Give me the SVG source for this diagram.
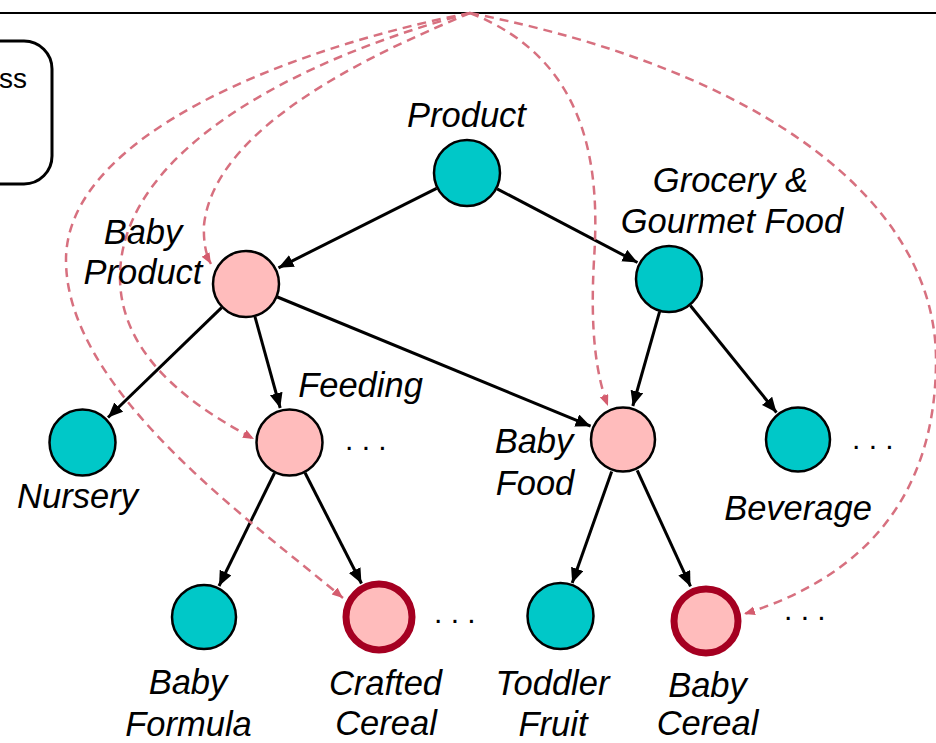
<svg xmlns="http://www.w3.org/2000/svg" width="936" height="743" viewBox="0 0 936 743">
<style>
.lbl{font-family:"Liberation Sans",Arial,sans-serif;font-style:italic;font-size:34.5px;fill:#000;text-anchor:middle}
.dots{font-family:"Liberation Sans",Arial,sans-serif;font-size:30px;fill:#000}
.teal{fill:#00C8C8;stroke:#000;stroke-width:2.5}
.pink{fill:#FFBCBC;stroke:#000;stroke-width:2.5}
.target{fill:#FFBCBC;stroke:#A50021;stroke-width:7}
.edge{stroke:#000;stroke-width:3;fill:none;marker-end:url(#ah)}
.dash{stroke:#D7707F;stroke-width:2.5;fill:none;stroke-dasharray:9 6;marker-end:url(#dh)}
</style>
<defs>
<marker id="ah" markerUnits="userSpaceOnUse" markerWidth="16" markerHeight="14" refX="15" refY="6.5" orient="auto">
<path d="M0,0 L15,6.5 L0,13 z" fill="#000"/>
</marker>
<marker id="dh" markerUnits="userSpaceOnUse" markerWidth="12" markerHeight="10" refX="11" refY="4.5" orient="auto">
<path d="M0,0 L11,4.5 L0,9 z" fill="#D45C6E"/>
</marker>
</defs>
<rect width="936" height="743" fill="#fff"/>
<line x1="0" y1="13" x2="936" y2="13" stroke="#000" stroke-width="2.2"/>
<g id="legend">
<rect x="-120" y="41" width="172" height="143" rx="28" fill="#fff" stroke="#000" stroke-width="3"/>
<text x="27" y="88" font-family="Liberation Sans, Arial, sans-serif" font-size="28" text-anchor="end">ss</text>
</g>
<g id="connectors">
<line class="edge" x1="436.6" y1="188.3" x2="278.5" y2="267.8"/>
<line class="edge" x1="497.1" y1="188.8" x2="637.5" y2="262.5"/>
<line class="edge" x1="221.6" y1="307.7" x2="108" y2="417.5"/>
<line class="edge" x1="255" y1="316.8" x2="280.2" y2="408"/>
<line class="edge" x1="277.4" y1="297" x2="590.6" y2="426.2"/>
<line class="edge" x1="659.6" y1="311.7" x2="632.8" y2="406"/>
<line class="edge" x1="690.3" y1="305.5" x2="776.5" y2="412.5"/>
<line class="edge" x1="274.5" y1="473" x2="219" y2="586"/>
<line class="edge" x1="305" y1="472.8" x2="361.5" y2="583.5"/>
<line class="edge" x1="611.7" y1="471.5" x2="572.2" y2="583"/>
<line class="edge" x1="637.2" y1="470.4" x2="690.5" y2="586.4"/>
<path class="dash" d="M470,13 C395,45 215,120 204,225 Q203,250 211,264"/>
<path class="dash" d="M470,13 C300,58 120,150 120,277 C120,360 200,410 254,439"/>
<path class="dash" d="M470,13 C290,48 66,135 66,260 C66,390 250,520 343,598"/>
<path class="dash" d="M470,13 C590,60 600,170 594,260 C590,330 596,375 608,406"/>
<path class="dash" d="M470,13 C760,70 936,200 936,360 C936,500 860,578 744,614"/>
</g>
<g id="product"><circle class="teal" cx="467" cy="173" r="33"/><text class="lbl" x="466.5" y="127">Product</text></g>
<g id="grocery"><circle class="teal" cx="669" cy="279" r="33"/><text class="lbl" x="730.5" y="192">Grocery &amp;</text><text class="lbl" x="732" y="233">Gourmet Food</text></g>
<g id="babyproduct"><circle class="pink" cx="246" cy="284" r="33"/><text class="lbl" x="143" y="244">Baby</text><text class="lbl" x="143" y="284">Product</text></g>
<g id="nursery"><circle class="teal" cx="82.5" cy="442.5" r="33"/><text class="lbl" x="77.5" y="508">Nursery</text></g>
<g id="feeding"><circle class="pink" cx="289.5" cy="442.5" r="33"/><text class="lbl" x="360.5" y="397">Feeding</text><text class="dots" x="345" y="450">. . .</text></g>
<g id="babyfood"><circle class="pink" cx="623" cy="439.5" r="32"/><text class="lbl" x="534" y="453">Baby</text><text class="lbl" x="535" y="495">Food</text></g>
<g id="beverage"><circle class="teal" cx="798" cy="439.5" r="32"/><text class="lbl" x="798" y="520">Beverage</text><text class="dots" x="852" y="449">. . .</text></g>
<g id="babyformula"><circle class="teal" cx="204" cy="617" r="32"/><text class="lbl" x="188" y="694">Baby</text><text class="lbl" x="188.5" y="736">Formula</text></g>
<g id="craftedcereal"><circle class="target" cx="379" cy="617" r="33"/><text class="lbl" x="385.5" y="695">Crafted</text><text class="lbl" x="386" y="735">Cereal</text><text class="dots" x="434" y="623">. . .</text></g>
<g id="toddlerfruit"><circle class="teal" cx="560.5" cy="616" r="33"/><text class="lbl" x="552.5" y="695">Toddler</text><text class="lbl" x="553" y="736">Fruit</text></g>
<g id="babycereal"><circle class="target" cx="706" cy="621" r="32"/><text class="lbl" x="707.5" y="697">Baby</text><text class="lbl" x="707.5" y="735">Cereal</text><text class="dots" x="784" y="620">. . .</text></g>
</svg>
